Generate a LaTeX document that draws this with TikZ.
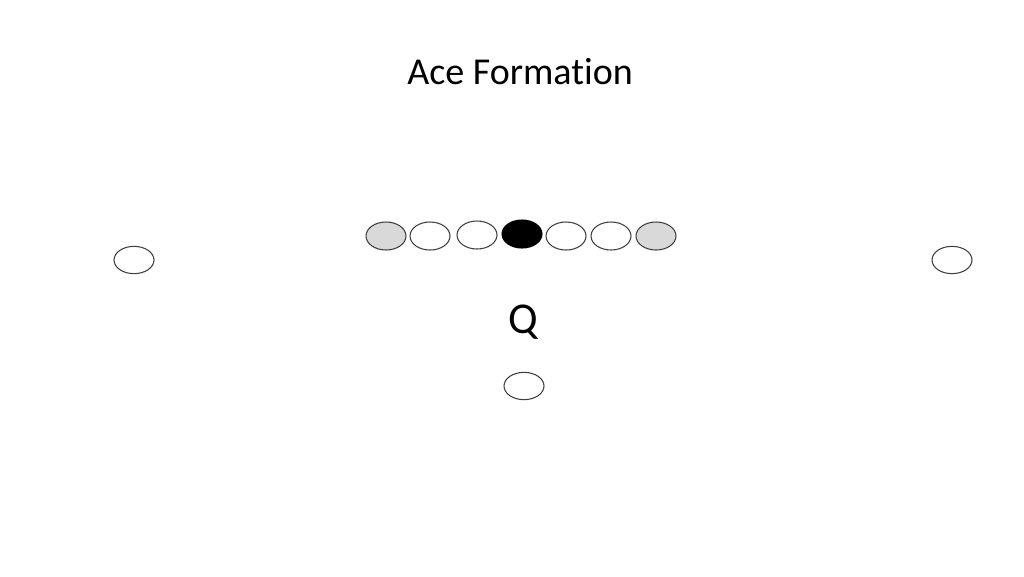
\documentclass[tikz,border=0pt]{standalone}
\usepackage{fontspec}
\setmainfont[Ligatures={NoCommon}]{Carlito}
\usetikzlibrary{shapes.geometric}
\definecolor{edgegray}{HTML}{404040}
\definecolor{linegray}{HTML}{D9D9D9}
\begin{document}
\begin{tikzpicture}[x=0.75pt,y=-0.75pt,
  player/.style={ellipse,draw=edgegray,line width=0.8pt,fill=white,inner sep=0pt,minimum width=30pt,minimum height=20.5pt},
  lineman/.style={player,minimum height=21pt},
  endman/.style={lineman,fill=linegray},
  center/.style={lineman,draw=black,fill=black},
  lbl/.style={inner sep=0pt,anchor=base}]
\useasboundingbox (0,0) rectangle (1024,576);
\fill[white] (0,0) rectangle (1024,576);
\node[lbl,font=\fontsize{28.5}{32}\selectfont] (title) at (520,84) {Ace Formation};
\node[endman] (lt) at (386,236) {};
\node[lineman] (lg) at (430,236) {};
\node[lineman] (lc) at (477,235) {};
\node[center] (c) at (522,234) {};
\node[lineman] (rc) at (566,236) {};
\node[lineman] (rg) at (611,236) {};
\node[endman] (rt) at (656,236) {};
\node[player] (wl) at (134,260) {};
\node[player] (wr) at (952,260) {};
\node[lbl,font=\fontsize{33}{36}\selectfont] (q) at (523,333) {Q};
\node[player] (rb) at (524,386) {};
\end{tikzpicture}
\end{document}
